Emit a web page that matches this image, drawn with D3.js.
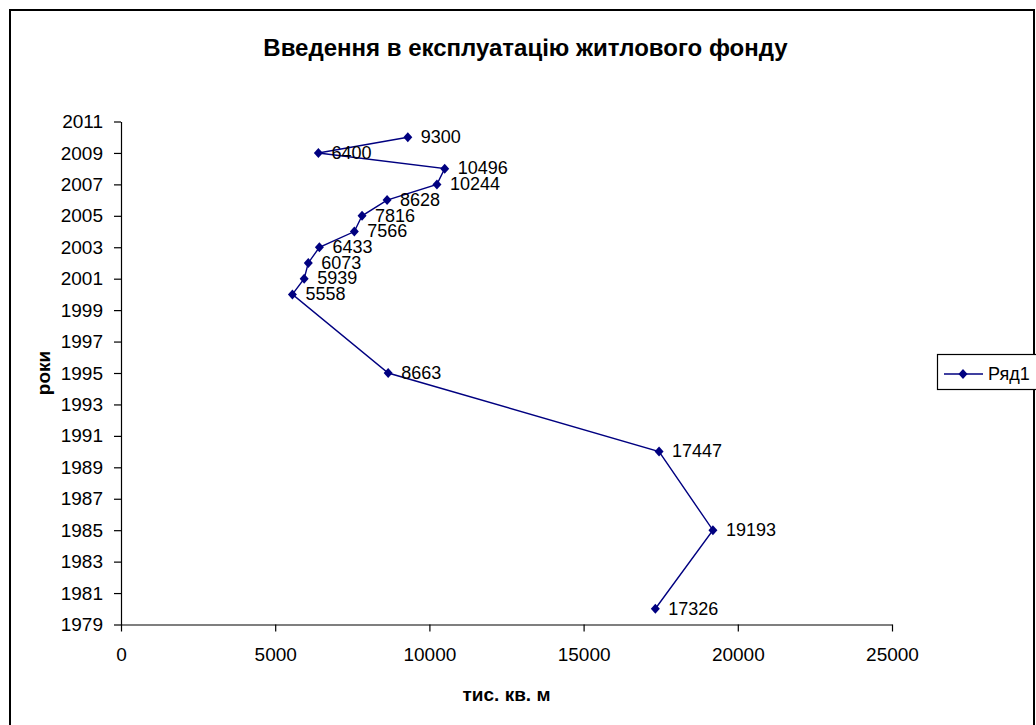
<!DOCTYPE html>
<html>
<head>
<meta charset="utf-8">
<script src="https://cdn.jsdelivr.net/npm/d3@7"></script>
<style>
	body { margin: 0; background: #fff; }
	svg { display: block; font-family: Arial, "Liberation Sans", sans-serif; }
</style>
</head>
<body>
<div id="chart"></div>
<script>
const WIDTH = 1036
const HEIGHT = 725

// data
var years = [1980, 1985, 1990, 1995, 2000, 2001, 2002, 2003, 2004, 2005, 2006, 2007, 2008, 2009, 2010]
var values = [17326, 19193, 17447, 8663, 5558, 5939, 6073, 6433, 7566, 7816, 8628, 10244, 10496, 6400, 9300]
var xTicks = [0, 5000, 10000, 15000, 20000, 25000]
var yTicks = [1979, 1981, 1983, 1985, 1987, 1989, 1991, 1993, 1995, 1997, 1999, 2001, 2003, 2005, 2007, 2009, 2011]
var seriesName = "Ряд1"

var plot = {left: 121, right: 892, top: 121.5, bottom: 624.5}
var navy = "#000080"

var svg = d3.select("#chart")
	.append("svg")
	.attr("width", WIDTH)
	.attr("height", HEIGHT)

//chart frame
svg.append("rect")
	.attr("x", 10)
	.attr("y", 10)
	.attr("width", 1024)
	.attr("height", 740)
	.attr("fill", "none")
	.attr("stroke", "#000")
	.attr("stroke-width", 2)

svg.append("text")
	.attr("x", 525.5)
	.attr("y", 56)
	.attr("text-anchor", "middle")
	.style("font-size", "24px")
	.style("font-weight", "bold")
	.text("Введення в експлуатацію житлового фонду")

var x = d3.scaleLinear()
	.domain([0, 25000])
	.range([plot.left, plot.right])

var y = d3.scaleLinear()
	.domain([1979, 2011])
	.range([plot.bottom, plot.top])

// x axis
var xAxis = svg.append("g")
	.attr("transform", "translate(0," + plot.bottom + ")")
	.call(d3.axisBottom(x).tickValues(xTicks).tickFormat(d3.format("d")).tickSize(7).tickSizeOuter(0).tickPadding(16))
xAxis.selectAll("text").style("font-size", "19px").attr("fill", "#000")

// y axis
var yAxis = svg.append("g")
	.attr("transform", "translate(" + plot.left + ",0)")
	.call(d3.axisLeft(y).tickValues(yTicks).tickFormat(d3.format("d")).tickSize(7).tickSizeOuter(0).tickPadding(11))
yAxis.selectAll("text").style("font-size", "19px").attr("fill", "#000")

svg.selectAll(".domain, .tick line").attr("stroke", "#000").attr("stroke-width", 1.2)

// axis titles
svg.append("text")
	.attr("x", (plot.left + plot.right) / 2)
	.attr("y", 700.5)
	.attr("text-anchor", "middle")
	.style("font-size", "19px")
	.style("font-weight", "bold")
	.text("тис. кв. м")

svg.append("text")
	.attr("transform", "translate(50," + (plot.top + plot.bottom) / 2 + ") rotate(-90)")
	.attr("text-anchor", "middle")
	.style("font-size", "19px")
	.style("font-weight", "bold")
	.text("роки")

var points = years.map(function(yr, i) { return {year: yr, value: values[i]} })

var line = d3.line()
	.x(function(d) { return x(d.value) })
	.y(function(d) { return y(d.year) })

svg.append("path")
	.datum(points)
	.attr("d", line)
	.attr("fill", "none")
	.attr("stroke", navy)
	.attr("stroke-width", 1.4)

var diamond = "M0,-5L4.5,0L0,5L-4.5,0Z"

svg.selectAll(".marker")
	.data(points)
	.enter()
	.append("path")
	.attr("class", "marker")
	.attr("d", diamond)
	.attr("transform", function(d) { return "translate(" + x(d.value) + "," + y(d.year) + ")" })
	.attr("fill", navy)

svg.selectAll(".lbl")
	.data(points)
	.enter()
	.append("text")
	.attr("class", "lbl")
	.attr("x", function(d) { return x(d.value) + 13 })
	.attr("y", function(d) { return y(d.year) })
	.attr("dy", "0.32em")
	.style("font-size", "18px")
	.text(function(d) { return d.value })

// legend
var legend = svg.append("g")
legend.append("rect")
	.attr("x", 937.5)
	.attr("y", 354.5)
	.attr("width", 110)
	.attr("height", 35)
	.attr("fill", "#fff")
	.attr("stroke", "#000")
	.attr("stroke-width", 1.2)
legend.append("line")
	.attr("x1", 944)
	.attr("x2", 983)
	.attr("y1", 374)
	.attr("y2", 374)
	.attr("stroke", navy)
	.attr("stroke-width", 1.4)
legend.append("path")
	.attr("d", diamond)
	.attr("transform", "translate(963,374)")
	.attr("fill", navy)
legend.append("text")
	.attr("x", 988)
	.attr("y", 379.5)
	.style("font-size", "18px")
	.text(seriesName)
</script>
</body>
</html>
